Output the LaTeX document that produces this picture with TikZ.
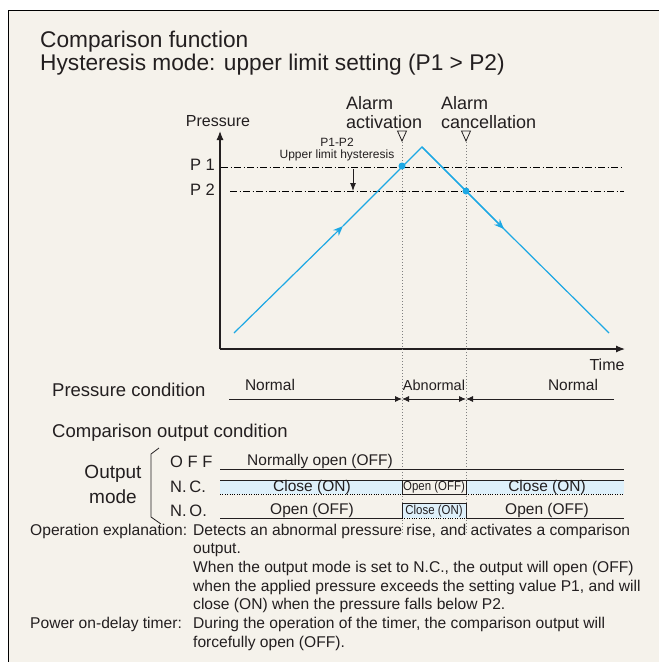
\documentclass[tikz,border=0pt]{standalone}
\usepackage{fontspec}
\setmainfont{Liberation Sans}
\usetikzlibrary{arrows.meta}

\definecolor{panelbg}{RGB}{245,242,235}
\definecolor{curveblue}{RGB}{28,168,228}
\definecolor{onfill}{RGB}{222,240,250}
\definecolor{ink}{RGB}{35,31,32}

\newcommand{\fs}[1]{\fontsize{#1}{#1}\selectfont}

\tikzset{
  txt/.style={inner sep=0pt, text=ink, font=\fs{15.5}},
  para/.style={txt, font=\fs{15.6}, anchor=base west},
  limitline/.style={line width=0.7pt, dash pattern=on 7pt off 2.5pt on 1pt off 2.5pt},
  guide/.style={gray, line width=0.8pt, dash pattern=on 1pt off 2pt},
  curve/.style={curveblue, line width=1.2pt},
  sig/.style={ink, line width=1pt},
  cond/.style={ink, line width=0.9pt},
  tipL/.style={-{Latex[length=7pt,width=6pt]}},
}

\begin{document}
\begin{tikzpicture}[x=1pt,y=-1pt]
            \useasboundingbox (0,0) rectangle (659,662);
            \clip (0,0) rectangle (659,662);

            %panel
            \draw[fill=panelbg,line width=1pt] (8.5,10.5) rectangle (680,700);

            \node[txt,font=\fs{22.7},anchor=base west] (title1) at (40,47) {Comparison function};

            \node[txt,font=\fs{22.7},anchor=base west] (title2) at (40,70) {Hysteresis mode: upper limit setting (P1 > P2)};

            %graph
            \coordinate (origin) at (220,349);

            \coordinate (ytop) at (220,131);

            \coordinate (xend) at (625,349);

            \draw[ink,line width=1.2pt,-{Latex[length=9pt,width=7pt]}] (origin)--(ytop);

            \draw[ink,line width=1.2pt,-{Latex[length=9pt,width=7pt]}] (origin)--(xend);

            \node[txt,font=\fs{16}] (pressure) at (218,121) {Pressure};

            \node[txt,font=\fs{16}] (time) at (607,365) {Time};

            \node[txt,font=\fs{16.5},anchor=east] (p1) at (215,165) {P 1};

            \node[txt,font=\fs{16.5},anchor=east] (p2) at (215,190) {P 2};

            \draw[limitline] (221,167)--(624,167);

            \draw[limitline] (230,191)--(624,191);

            \node[txt,font=\fs{12}] (hysA) at (337,142) {P1-P2};

            \node[txt,font=\fs{12}] (hysB) at (337,155) {Upper limit hysteresis};

            \draw[ink,line width=0.9pt,-{Latex[length=8pt,width=6pt]}] (353,169)--(353,191);

            %alarm marks
            \draw[guide] (402,142)--(402,534);

            \draw[guide] (466,142)--(466,534);

            \draw[ink,line width=0.8pt] (397.5,131)--(406.5,131)--(402,141)--cycle;

            \draw[ink,line width=0.8pt] (461.5,131)--(470.5,131)--(466,141)--cycle;

            \node[txt,font=\fs{18},anchor=west] (alarmA1) at (346,103) {Alarm};

            \node[txt,font=\fs{18},anchor=west] (alarmA2) at (346,122) {activation};

            \node[txt,font=\fs{18},anchor=west] (alarmC1) at (441,103) {Alarm};

            \node[txt,font=\fs{18},anchor=west] (alarmC2) at (441,122) {cancellation};

            %curve
            \coordinate (start) at (234,333);

            \coordinate (upmid) at (343,226);

            \coordinate (peak) at (422,147);

            \coordinate (downmid) at (504,229);

            \coordinate (stop) at (609,333);

            \draw[curve,-{Stealth[length=10pt,width=8pt]}] (start)--(upmid);

            \draw[curve] (upmid)--(peak)--(downmid);

            \draw[curve,-{Stealth[length=10pt,width=8pt]}] (peak)--(downmid);

            \draw[curve] (downmid)--(stop);

            \fill[curveblue] (402,166) circle (3.5pt);

            \fill[curveblue] (466,191) circle (3.5pt);

            %pressure condition
            \node[txt,font=\fs{18.5},anchor=west] (condition) at (52,390) {Pressure condition};

            \node[txt] (normalL) at (270,385) {Normal};

            \node[txt,font=\fs{14.5}] (abnormal) at (434,385) {Abnormal};

            \node[txt] (normalR) at (573,385) {Normal};

            \draw[cond,tipL] (229,399)--(402,399);

            \draw[cond,{Latex[length=7pt,width=6pt]}-{Latex[length=7pt,width=6pt]}] (402,399)--(466,399);

            \draw[cond,tipL] (614,399)--(466,399);

            %output condition
            \node[txt,font=\fs{18.5},anchor=west] (outcond) at (52,433) {Comparison output condition};

            \node[txt,font=\fs{19}] (output) at (113,474) {Output};

            \node[txt,font=\fs{19}] (mode) at (113,497) {mode};

            \draw[ink,line width=0.8pt] (159,448)--(151,454)--(151,517)--(161,524);

            \node[txt,font=\fs{16.5},anchor=west] (offlbl) at (170,462) {O F F};

            \node[txt,font=\fs{16.5},anchor=west] (nclbl) at (170,487) {N.\,C.};

            \node[txt,font=\fs{16.5},anchor=west] (nolbl) at (170,511) {N.\,O.};

            %OFF row
            \draw[sig] (220,469)--(624,469);

            \node[txt] (offtext) at (320,461) {Normally open (OFF)};

            %N.C. row
            \fill[onfill] (220,480) rectangle (402,494);

            \fill[onfill] (466,480) rectangle (624,494);

            \draw[sig] (220,480)--(402,480)--(402,494)--(466,494)--(466,480)--(624,480);

            \draw[thin,dotted] (220,494)--(402,494);

            \draw[thin,dotted] (466,494)--(624,494);

            \draw[ink,thin] (402,480)--(466,480);

            \node[txt] (ncL) at (312,487) {Close (ON)};

            \node[txt,font=\fs{13},xscale=0.88] (ncM) at (434,487.5) {Open (OFF)};

            \node[txt] (ncR) at (547,487) {Close (ON)};

            %N.O. row
            \fill[onfill] (402,503) rectangle (466,518);

            \draw[sig] (220,518)--(402,518)--(402,503)--(466,503)--(466,518)--(624,518);

            \draw[thin,dotted] (402,518)--(466,518);

            \node[txt] (noL) at (312,510) {Open (OFF)};

            \node[txt,font=\fs{13},xscale=0.88] (noM) at (434,511) {Close (ON)};

            \node[txt] (noR) at (547,510) {Open (OFF)};

            %explanation
            \node[para] (opA) at (30,535) {Operation explanation:};

            \node[para] (op1) at (193,535) {Detects an abnormal pressure rise, and activates a comparison};

            \node[para] (op2) at (193,553.5) {output.};

            \node[para] (op3) at (193,572) {When the output mode is set to N.C., the output will open (OFF)};

            \node[para] (op4) at (193,591) {when the applied pressure exceeds the setting value P1, and will};

            \node[para] (op5) at (193,609.5) {close (ON) when the pressure falls below P2.};

            \node[para] (pwA) at (30,628) {Power on-delay timer:};

            \node[para] (pw1) at (193,628) {During the operation of the timer, the comparison output will};

            \node[para] (pw2) at (193,647) {forcefully open (OFF).};
\end{tikzpicture}
\end{document}
